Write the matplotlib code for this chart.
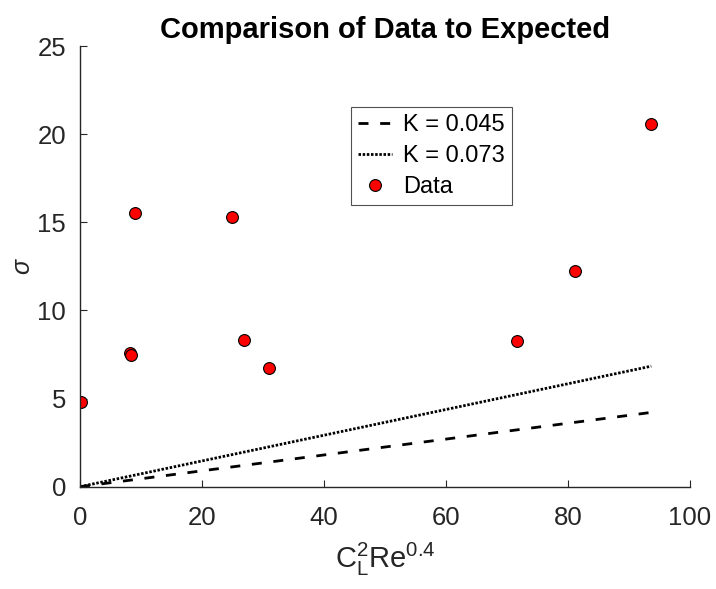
import numpy as np
import matplotlib
matplotlib.use("Agg")
import matplotlib.pyplot as plt

# Measured values: x = C_L^2 Re^0.4, y = sigma
x_data = [0.1, 8.2, 8.4, 8.96, 25.0, 26.9, 31.0, 71.7, 81.2, 93.65]
sigma_data = [4.8, 7.58, 7.48, 15.53, 15.28, 8.33, 6.73, 8.24, 12.26, 20.6]

k_values = [0.045, 0.073]
k_labels = ["K = 0.045", "K = 0.073"]
k_styles = [(0, (3.6, 4.2)), (0, (0.9, 0.6))]

x_ticks = [0, 20, 40, 60, 80, 100]
y_ticks = [0, 5, 10, 15, 20, 25]

plt.rcParams["font.family"] = ["Liberation Sans", "DejaVu Sans"]
plt.rcParams["mathtext.fontset"] = "custom"
plt.rcParams["mathtext.rm"] = "Liberation Sans"
plt.rcParams["mathtext.it"] = "Liberation Sans:italic"

axis_color = "#262626"

fig = plt.figure(figsize=(7.16, 5.89), dpi=100)
ax = fig.add_axes([0.1117, 0.1737, 0.852, 0.7482])

x_line = np.sort(np.array(x_data))
x_line = np.concatenate([[0.0], x_line])
for k, lab, ls in zip(k_values, k_labels, k_styles):
    ax.plot(x_line, k * x_line, color="black", linestyle=ls, linewidth=2.0,
            label=lab)

ax.plot(x_data, sigma_data, linestyle="none", marker="o", markersize=8.5,
        markerfacecolor="#ff0000", markeredgecolor="black",
        markeredgewidth=0.8, label="Data")

ax.set_xlim(0, 100)
ax.set_ylim(0, 25)
ax.set_xticks(x_ticks)
ax.set_yticks(y_ticks)

for side in ("top", "right"):
    ax.spines[side].set_visible(False)
for side in ("left", "bottom"):
    ax.spines[side].set_color(axis_color)
    ax.spines[side].set_linewidth(1.0)

ax.tick_params(direction="in", length=5, width=0.8, colors=axis_color,
               labelsize=18.5, labelcolor=axis_color)
ax.tick_params(axis="x", pad=14)
ax.tick_params(axis="y", pad=10)

ax.set_title("Comparison of Data to Expected", fontsize=21, fontweight="bold",
             pad=6)
ax.set_xlabel(r"$\mathregular{C_L^2Re^{0.4}}$", fontsize=21, color=axis_color,
              labelpad=8)
ax.set_ylabel(r"$\sigma$", fontsize=18, color=axis_color, labelpad=2)

leg = ax.legend(loc="upper left", bbox_to_anchor=(0.444, 0.861),
                fontsize=17, frameon=True, fancybox=False,
                handlelength=1.45, handletextpad=0.45, borderpad=0.3,
                labelspacing=0.38, borderaxespad=0.0)
leg.get_frame().set_edgecolor(axis_color)
leg.get_frame().set_linewidth(0.8)

fig.savefig("out.png", dpi=100)
